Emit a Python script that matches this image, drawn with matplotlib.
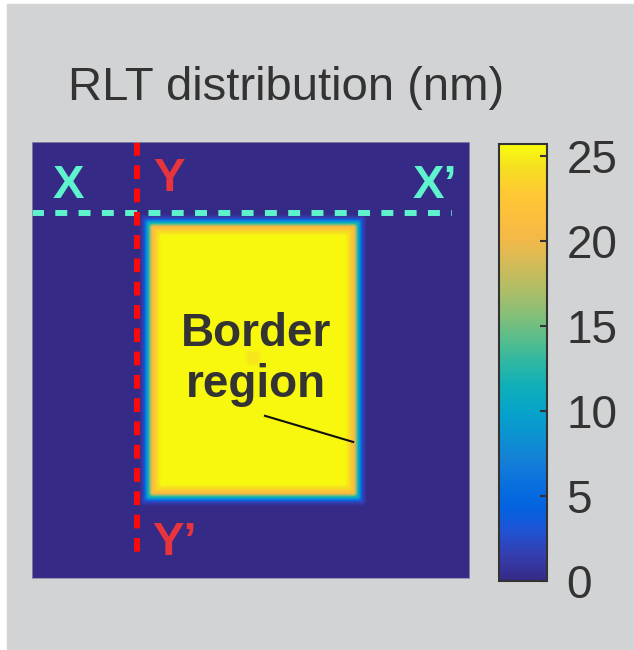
import numpy as np
import matplotlib
matplotlib.use('Agg')
import matplotlib.pyplot as plt
from matplotlib.colors import LinearSegmentedColormap
from matplotlib.patches import Rectangle

plt.rcParams['font.family'] = ['Liberation Sans', 'DejaVu Sans']

# RLT map (nm) on a 100 x 100 grid: thick rectangle in the middle, ramped border
grid_size = 100
ring_values = [2, 11, 21, 24, 25.5]      # outer ring -> interior
outer_rows = (17, 83)
outer_cols = (25, 76)
spot_value = 24.6                        # slight dip near the centre
spot_rows = (48, 51)
spot_cols = (49, 52)

cbar_ticks = [0, 5, 10, 15, 20, 25]
vmax = 25.7

nm = np.zeros((grid_size, grid_size))
for k, v in enumerate(ring_values):
    nm[outer_rows[0] + k:outer_rows[1] - k, outer_cols[0] + k:outer_cols[1] - k] = v
nm[spot_rows[0]:spot_rows[1], spot_cols[0]:spot_cols[1]] = spot_value

# parula-like colormap
parula = LinearSegmentedColormap.from_list('parula', [
    (0.2081, 0.1663, 0.5292), (0.2081, 0.2386, 0.6771), (0.1253, 0.3242, 0.8303),
    (0.0117, 0.3875, 0.8820), (0.0329, 0.4430, 0.8720), (0.0779, 0.5040, 0.8384),
    (0.0488, 0.5772, 0.8228), (0.0231, 0.6418, 0.7913), (0.0590, 0.6838, 0.7254),
    (0.1801, 0.7177, 0.6424), (0.3482, 0.7424, 0.5473), (0.5300, 0.7491, 0.4661),
    (0.6834, 0.7435, 0.4044), (0.8185, 0.7327, 0.3498), (0.9450, 0.7261, 0.2886),
    (0.9938, 0.7455, 0.2403), (0.9955, 0.7861, 0.1967), (0.9626, 0.8705, 0.1309),
    (0.9763, 0.9831, 0.0538)], N=256)

W, H = 634, 650
fig = plt.figure(figsize=(W / 100, H / 100), dpi=100, facecolor='white')
fig.patches.append(Rectangle((7 / W, 1 / H), 627 / W, 645 / H, transform=fig.transFigure,
                             color='#d2d3d5', zorder=-1))

ax = fig.add_axes([32 / W, 72 / H, 437 / W, 436 / H])
im = ax.imshow(nm, cmap=parula, vmin=0, vmax=vmax, interpolation='bilinear',
               extent=[0, grid_size, grid_size, 0], aspect='auto')
ax.set_xticks([])
ax.set_yticks([])
for s in ax.spines.values():
    s.set_color('#8c8aa8')
    s.set_linewidth(0.6)

# cut lines
ax.plot([0, 96.1], [16.3, 16.3], color='#5ef2cd', lw=4.3, dashes=(2.0, 1.9),
        dash_capstyle='butt')
ax.plot([24.0, 24.0], [0, 96.1], color='#ff0a0a', lw=4.3, dashes=(2.3, 1.6),
        dash_capstyle='butt')
ax.set_xlim(0, grid_size)
ax.set_ylim(grid_size, 0)

bold = dict(fontsize=34, fontweight='bold', va='center')
ax.text(8.2, 10.1, 'X', color='#5ef2cd', ha='center', **bold)
ax.text(87.0, 10.0, 'X\u2019', color='#5ef2cd', ha='left', **bold)
ax.text(31.4, 8.5, 'Y', color='#e8343c', ha='center', **bold)
ax.text(27.5, 92.0, 'Y\u2019', color='#e8343c', ha='left', **bold)

ax.text(51.3, 46.8, 'Border', color='#333333', fontsize=33, fontweight='bold',
        ha='center', va='baseline')
ax.text(51.3, 58.5, 'region', color='#333333', fontsize=33, fontweight='bold',
        ha='center', va='baseline')
ax.plot([53.3, 73.5], [62.8, 68.8], color='#111111', lw=1.5)

# colorbar
cax = fig.add_axes([499 / W, 69 / H, 48 / W, 437 / H])
cb = fig.colorbar(im, cax=cax, ticks=cbar_ticks)
cb.outline.set_edgecolor('#333333')
cb.outline.set_linewidth(1.5)
cax.tick_params(direction='in', length=5, width=1.5, color='#333333', pad=14,
                labelsize=33, labelcolor='#333333')

fig.text(68 / W, 1 - 100 / H, 'RLT distribution (nm)', fontsize=34,
         color='#333333', ha='left', va='baseline')

fig.savefig('out.png', dpi=100, facecolor=fig.get_facecolor())
